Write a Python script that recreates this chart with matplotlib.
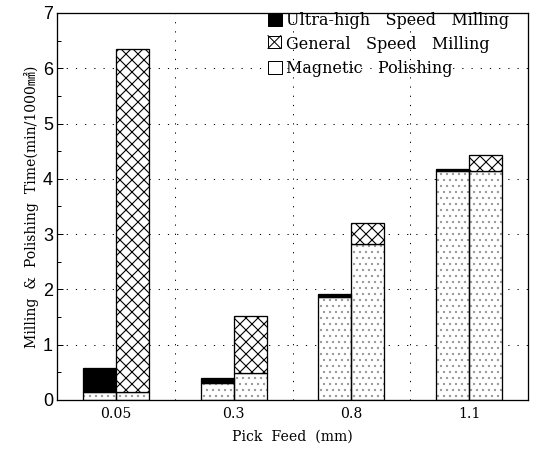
import matplotlib
matplotlib.use('Agg')
import matplotlib.pyplot as plt
import matplotlib.patches as mpatches
from matplotlib.lines import Line2D
from matplotlib.legend_handler import HandlerBase
import numpy as np

feeds = ['0.05', '0.3', '0.8', '1.1']
polish_uhs = [0.15, 0.31, 1.86, 4.14]   # magnetic polishing under ultra-high speed bar
uhs_mill = [0.43, 0.09, 0.05, 0.04]     # ultra-high speed milling
polish_gen = [0.15, 0.49, 2.82, 4.15]   # magnetic polishing under general speed bar
gen_mill = [6.20, 1.03, 0.38, 0.28]     # general speed milling

serif = ['DejaVu Serif', 'Noto Sans CJK KR', 'DejaVu Sans']
plt.rcParams['hatch.linewidth'] = 1.1


class BoxX(HandlerBase):
    # square with one X inside, like the legend key of the original
    def create_artists(self, legend, orig, xd, yd, width, height, fontsize, trans):
        s = min(width, height)
        box = mpatches.Rectangle((xd, yd), s, s, facecolor='white', edgecolor='black',
                                 linewidth=1, transform=trans)
        l1 = Line2D([xd, xd + s], [yd, yd + s], color='black', linewidth=1, transform=trans)
        l2 = Line2D([xd, xd + s], [yd + s, yd], color='black', linewidth=1, transform=trans)
        return [box, l1, l2]


fig = plt.figure(figsize=(538/72, 449/72), dpi=72)
ax = fig.add_axes([57/538, 49/449, 471/538, 387/449])

x = np.arange(len(feeds))
w = 0.28
xl = x - w/2
xr = x + w/2

# dotted polishing parts (gray dots), then black outlines
ax.bar(xl, polish_uhs, w, color='white', edgecolor='#999999', hatch='..', linewidth=0, zorder=2)
ax.bar(xl, polish_uhs, w, fill=False, edgecolor='black', linewidth=1.3, zorder=3)
ax.bar(xr, polish_gen, w, color='white', edgecolor='#999999', hatch='..', linewidth=0, zorder=2)
ax.bar(xr, polish_gen, w, fill=False, edgecolor='black', linewidth=1.3, zorder=3)
ax.bar(xl, uhs_mill, w, bottom=polish_uhs, color='black', edgecolor='black', linewidth=1.3, zorder=3)
ax.bar(xr, gen_mill, w, bottom=polish_gen, color='white', edgecolor='black', hatch='xx', linewidth=1.3, zorder=3)

ax.set_xlim(-0.5, 3.5)
ax.set_ylim(0, 7)
ax.set_yticks(range(8))
ax.set_yticks(np.arange(0.5, 7, 1), minor=True)
ax.set_xticks(x)
ax.set_xticklabels(feeds, family=serif, fontsize=14)
for t in ax.get_yticklabels():
    t.set_family('Liberation Sans')
    t.set_fontsize(18)
ax.tick_params(axis='y', which='major', direction='in', length=6, width=1, pad=4)
ax.tick_params(axis='y', which='minor', direction='in', length=4, width=1)
ax.tick_params(axis='x', length=0, pad=7)

# dotted grid between groups and at each unit
for g in [0.5, 1.5, 2.5]:
    ax.axvline(g, color='black', linestyle=(0, (1.2, 8)), linewidth=1, zorder=1)
for g in range(1, 7):
    ax.axhline(g, color='black', linestyle=(0, (1.2, 8)), linewidth=1, zorder=1)

for s in ax.spines.values():
    s.set_linewidth(1.3)

ax.set_xlabel('Pick  Feed  (mm)', family=serif, fontsize=14, labelpad=9)
ax.set_ylabel('Milling  &  Polishing  Time(min/1000㎟)', family=serif, fontsize=14, labelpad=4)

h_uhs = mpatches.Patch(facecolor='black', edgecolor='black')
h_gen = mpatches.Patch(facecolor='white', edgecolor='black')
h_pol = mpatches.Patch(facecolor='white', edgecolor='black')
ax.legend([h_uhs, h_gen, h_pol],
          ['Ultra-high   Speed   Milling', 'General   Speed   Milling', 'Magnetic   Polishing'],
          handler_map={h_gen: BoxX()},
          loc='upper left', bbox_to_anchor=(268/538, 437/449),
          bbox_transform=fig.transFigure, frameon=False, prop={'family': serif, 'size': 16},
          handlelength=0.85, handleheight=0.85, handletextpad=0.3, labelspacing=0.45,
          borderaxespad=0, borderpad=0.0)

fig.savefig('out.png', dpi=72)
